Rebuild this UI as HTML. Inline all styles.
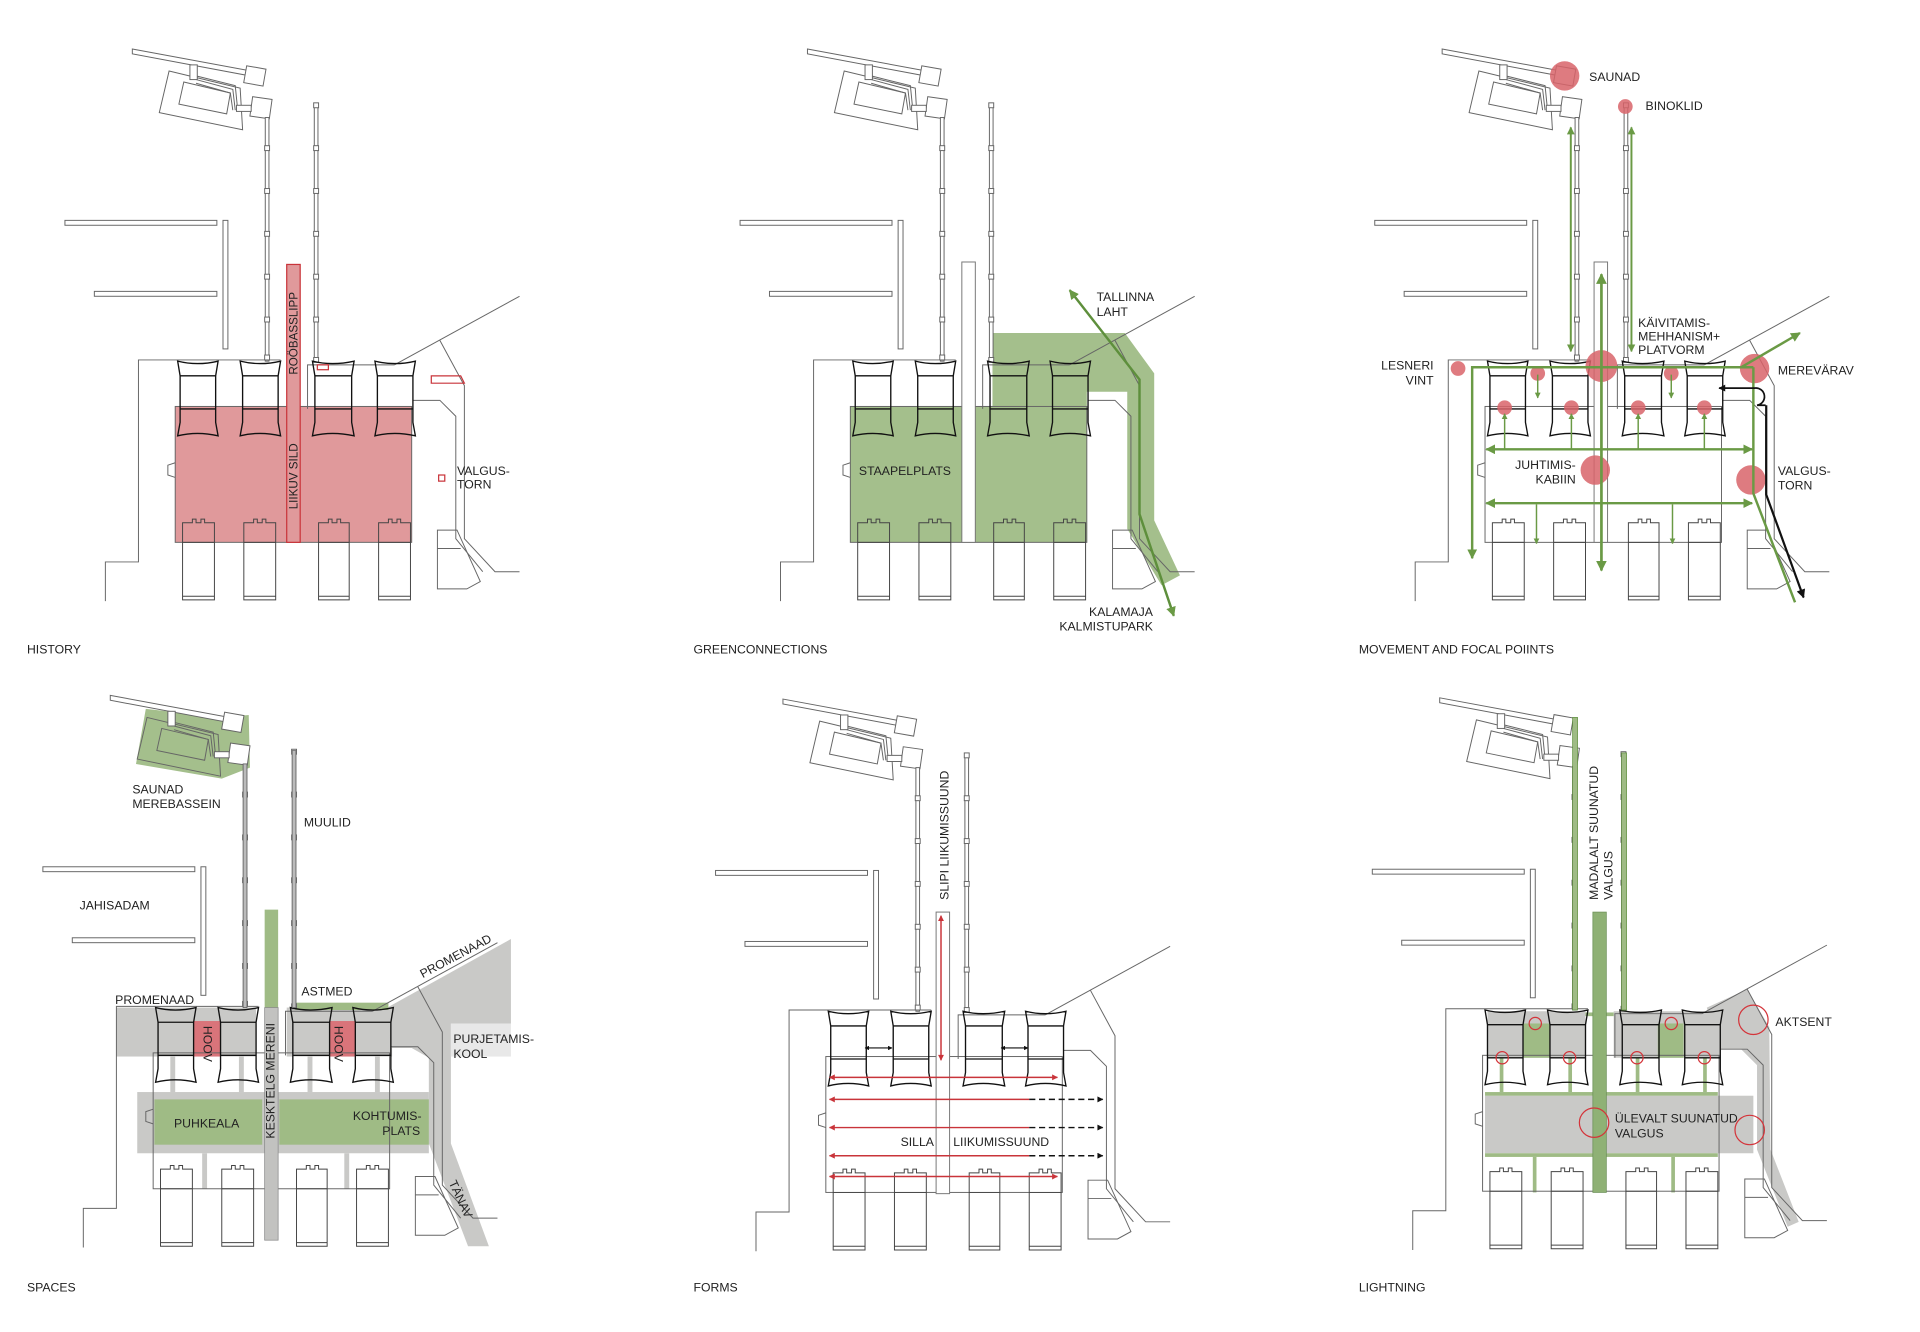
<!DOCTYPE html>
<html><head><meta charset="utf-8"><style>
html,body{margin:0;padding:0;background:#fff;}
svg{display:block;}
text{font-family:"Liberation Sans",Arial,sans-serif;font-size:10px;fill:#222;}
</style></head><body>
<svg width="1920" height="1332" viewBox="0 0 1567 1088" preserveAspectRatio="none" xmlns="http://www.w3.org/2000/svg">
<defs>
<marker id="ag" viewBox="0 0 10 10" refX="9" refY="5" markerWidth="4" markerHeight="4" orient="auto-start-reverse"><path d="M0,0 L10,5 L0,10 Z" fill="#6a9a45"/></marker>
<marker id="ar" viewBox="0 0 10 10" refX="9" refY="5" markerWidth="5" markerHeight="4" orient="auto-start-reverse"><path d="M0,0 L10,5 L0,10 Z" fill="#c9343a"/></marker>
<marker id="ak" viewBox="0 0 10 10" refX="9" refY="5" markerWidth="5" markerHeight="4" orient="auto-start-reverse"><path d="M0,0 L10,5 L0,10 Z" fill="#111"/></marker>
<g id="base">
 <g fill="none" stroke="#666" stroke-width="0.8">
  <path d="M108,40 L205,58 L204,62 L108,44 Z" fill="#fff"/>
  <polygon points="138,58 196,72 198,106 130,92"/>
  <polygon points="150,67 188,76 185,93 146,85"/>
  <path d="M160,62 L192,70 L194,90 M160,65 L190,73 L192,90 M160,68 L188,76 L190,90"/>
  <rect x="155" y="53" width="6" height="12" fill="#fff"/>
  <rect x="200" y="55" width="16" height="14" transform="rotate(10 208 62)" fill="#fff"/>
  <rect x="205" y="80" width="16" height="16" fill="#fff" transform="rotate(8 213 88)"/>
  <rect x="193" y="86" width="12" height="5" fill="#fff"/>
  <rect x="216.5" y="96" width="3" height="199" fill="#fff"/>
  <rect x="256.5" y="85" width="3" height="210" fill="#fff"/>
  <g fill="#fff">
   <rect x="216" y="119" width="4" height="4"/><rect x="216" y="154" width="4" height="4"/><rect x="216" y="189" width="4" height="4"/><rect x="216" y="224" width="4" height="4"/><rect x="216" y="259" width="4" height="4"/><rect x="216" y="290" width="4" height="4"/>
   <rect x="256" y="84" width="4" height="4"/><rect x="256" y="119" width="4" height="4"/><rect x="256" y="154" width="4" height="4"/><rect x="256" y="189" width="4" height="4"/><rect x="256" y="224" width="4" height="4"/><rect x="256" y="259" width="4" height="4"/><rect x="256" y="292" width="4" height="4"/>
  </g>
  <rect x="53" y="180" width="124" height="4"/>
  <rect x="77" y="238" width="100" height="4"/>
  <rect x="182" y="180" width="4" height="105"/>
  <polyline points="86,491 86,459 113,459 113,294 229,294"/>
  <polyline points="251,334 251,298 322,298"/>
  <polyline points="322,298 424,242"/>
  <polyline points="337,327 359,327 372,340 372,440 394,467"/>
  <polyline points="359,278 379,315 379,440 404,467 424,467"/>
  <rect x="143" y="332" width="193" height="111"/>
  <path d="M143,378 L137,380 L137,388 L143,390"/>
  <path d="M357,481 L357,433 L373,433 L392,475 L381,481 Z M357,448 L376,448"/>
 </g>
 <g fill="none" stroke="#111" stroke-width="1.1">
  <path d="M145,295 Q161,299 178,295 L176,307 L176,345 L178,356 Q161,352 145,356 L147,345 L147,307 Z M147,307 H176 M147,334 H176"/>
  <path d="M196,295 Q212,299 229,295 L227,307 L227,345 L229,356 Q212,352 196,356 L198,345 L198,307 Z M198,307 H227 M198,334 H227"/>
  <path d="M255,295 Q271,299 289,295 L287,307 L287,345 L289,356 Q271,352 255,356 L257,345 L257,307 Z M257,307 H287 M257,334 H287"/>
  <path d="M306,295 Q322,299 339,295 L337,307 L337,345 L339,356 Q322,352 306,356 L308,345 L308,307 Z M308,307 H337 M308,334 H337"/>
 </g>
 <g fill="none" stroke="#444" stroke-width="0.8">
  <path d="M149,490 V427 H157 V424 H160 V427 H164 V424 H167 V427 H175 V490 Z M149,443 H175 M149,487 H175"/>
  <path d="M199,490 V427 H207 V424 H210 V427 H214 V424 H217 V427 H225 V490 Z M199,443 H225 M199,487 H225"/>
  <path d="M260,490 V427 H268 V424 H271 V427 H275 V424 H278 V427 H285 V490 Z M260,443 H285 M260,487 H285"/>
  <path d="M309,490 V427 H317 V424 H320 V427 H324 V424 H327 V427 H335 V490 Z M309,443 H335 M309,487 H335"/>
 </g>
</g>
</defs>

<!-- PANEL 1 HISTORY -->
<rect x="143" y="332" width="193" height="111" fill="#e0999b"/>
<use href="#base"/>
<rect x="234" y="216" width="11" height="227" fill="#e0999b" stroke="#c9343a" stroke-width="1"/>
<rect x="259" y="298" width="9" height="4" fill="none" stroke="#c9343a"/>
<polygon points="352,307 376,307 379,313 352,313" fill="none" stroke="#c9343a"/>
<rect x="358" y="388" width="5" height="5" fill="none" stroke="#c9343a"/>
<text transform="translate(243,306) rotate(-90)" style="font-size:9.5px">ROÖBASSLIPP</text>
<text transform="translate(243,416) rotate(-90)" style="font-size:9.5px">LIIKUV SILD</text>
<text x="373" y="388">VALGUS-</text><text x="373" y="399">TORN</text>
<text x="22" y="534">HISTORY</text>

<!-- PANEL 2 GREEN -->
<g transform="translate(551,0)">
 <polygon points="259,272 367,272 391,305 391,425 412,470 397,478 369,432 369,320 336,320 336,443 143,443 143,332 259,332" fill="#a4bf8c"/>
 <use href="#base"/>
 <rect x="234" y="214" width="11" height="229" fill="#fff" stroke="#777" stroke-width="0.8"/>
 <polyline points="322,237 379,310 379,420 407,503" fill="none" stroke="#5e8f3c" stroke-width="2" marker-start="url(#ag)" marker-end="url(#ag)"/>
</g>
<text x="895" y="246">TALLINNA</text><text x="895" y="258">LAHT</text>
<text x="701" y="388">STAAPELPLATS</text>
<text x="941" y="503" text-anchor="end">KALAMAJA</text><text x="941" y="515" text-anchor="end">KALMISTUPARK</text>
<text x="566" y="534">GREENCONNECTIONS</text>

<!-- PANEL 3 MOVEMENT -->
<g transform="translate(1069,0)">
 <use href="#base"/>
 <rect x="232" y="214" width="11" height="229" fill="#fff" stroke="#777" stroke-width="0.8"/>
 <g fill="#d9646a" opacity="0.85">
  <circle cx="208" cy="62" r="12"/><circle cx="257.5" cy="87" r="6"/>
  <circle cx="238" cy="299" r="13"/><circle cx="121" cy="301" r="6"/>
  <circle cx="363" cy="301" r="12"/><circle cx="233" cy="384" r="12"/><circle cx="360" cy="392" r="12"/>
  <circle cx="186" cy="305" r="6"/><circle cx="295" cy="305" r="6"/>
  <circle cx="159" cy="333" r="6"/><circle cx="213.5" cy="333" r="6"/><circle cx="268" cy="333" r="6"/><circle cx="322" cy="333" r="6"/>
 </g>
 <g fill="none" stroke="#6a9a45" stroke-width="1.6">
  <line x1="213" y1="104" x2="213" y2="287" marker-start="url(#ag)" marker-end="url(#ag)"/>
  <line x1="262.5" y1="104" x2="262.5" y2="287" marker-start="url(#ag)" marker-end="url(#ag)"/>
  <line x1="238" y1="224" x2="238" y2="466" stroke-width="2.2" marker-start="url(#ag)" marker-end="url(#ag)"/>
  <polyline points="132.5,456 132.5,300 362,300" stroke-width="2" marker-start="url(#ag)"/>
  <line x1="144" y1="367" x2="361" y2="367" stroke-width="2" marker-start="url(#ag)" marker-end="url(#ag)"/>
  <line x1="144" y1="411" x2="361" y2="411" stroke-width="2" marker-start="url(#ag)" marker-end="url(#ag)"/>
  <line x1="185" y1="412" x2="185" y2="444" stroke-width="1.2" marker-end="url(#ag)"/>
  <line x1="296" y1="412" x2="296" y2="444" stroke-width="1.2" marker-end="url(#ag)"/>
  <line x1="186" y1="306" x2="186" y2="325" stroke-width="1.2" marker-end="url(#ag)"/>
  <line x1="295" y1="306" x2="295" y2="325" stroke-width="1.2" marker-end="url(#ag)"/>
  <line x1="159" y1="367" x2="159" y2="338" stroke-width="1.2" marker-end="url(#ag)"/>
  <line x1="213.5" y1="367" x2="213.5" y2="338" stroke-width="1.2" marker-end="url(#ag)"/>
  <line x1="268" y1="367" x2="268" y2="338" stroke-width="1.2" marker-end="url(#ag)"/>
  <line x1="322" y1="367" x2="322" y2="338" stroke-width="1.2" marker-end="url(#ag)"/>
  <polyline points="362,300 362,403 396,492" stroke-width="2"/>
  <line x1="352" y1="300" x2="400" y2="272" stroke-width="2" marker-end="url(#ag)"/>
 </g>
 <g fill="none" stroke="#111" stroke-width="1.4">
  <line x1="356" y1="317" x2="334" y2="317" marker-end="url(#ak)"/>
  <path d="M356,317 L363,317 A7,7 0 1 1 365,331 L372,331"/>
  <polyline points="372.5,331 372.5,404 403,488" marker-end="url(#ak)" stroke-width="1.8"/>
 </g>
</g>
<text x="1297" y="66">SAUNAD</text><text x="1343" y="90">BINOKLID</text>
<text x="1337" y="267">KÄIVITAMIS-</text><text x="1337" y="278">MEHHANISM+</text><text x="1337" y="289">PLATVORM</text>
<text x="1451" y="306">MEREVÄRAV</text>
<text x="1170" y="302" text-anchor="end">LESNERI</text><text x="1170" y="314" text-anchor="end">VINT</text>
<text x="1286" y="383" text-anchor="end">JUHTIMIS-</text><text x="1286" y="395" text-anchor="end">KABIIN</text>
<text x="1451" y="388">VALGUS-</text><text x="1451" y="400">TORN</text>
<text x="1109" y="534">MOVEMENT AND FOCAL POIINTS</text>

<!-- PANEL 4 SPACES -->
<g transform="translate(-18,528)">
 <polygon points="137,51 199,58 221,56 222,99 199,108 129,96" fill="#a4bf8c"/>
 <rect x="113" y="295" width="114" height="40" fill="#c9c9c7"/>
 <rect x="252" y="295" width="86" height="40" fill="#c9c9c7"/>
 <polygon points="334,295 435,239 435,308 386,308 386,406 417,490 400,490 368,406 368,336 354,328 337,328" fill="#c9c9c7"/>
 <rect x="386" y="308" width="49" height="27" fill="#e8e8e8"/>
 <rect x="130" y="364" width="238" height="50" fill="#c9c9c7"/>
 <rect x="144" y="370" width="88" height="37" fill="#9fbb85"/>
 <rect x="246" y="370" width="122" height="37" fill="#9fbb85"/>
 <g fill="#c9c9c7"><rect x="157" y="335" width="4" height="29"/><rect x="213" y="335" width="4" height="29"/><rect x="269" y="335" width="4" height="29"/><rect x="324" y="335" width="4" height="29"/><rect x="183" y="414" width="4" height="29"/><rect x="299" y="414" width="4" height="29"/></g>
 <rect x="259" y="291" width="76" height="6" fill="#9fbb85"/>
 <rect x="176" y="306" width="22" height="29" fill="#d9747a"/>
 <rect x="287" y="306" width="21" height="29" fill="#d9747a"/>
 <use href="#base"/>
 <rect x="216.5" y="96" width="3" height="199" fill="#bbb" stroke="#666" stroke-width="0.6"/>
 <rect x="256.5" y="85" width="3" height="210" fill="#bbb" stroke="#666" stroke-width="0.6"/>
 <rect x="234" y="215" width="11" height="80" fill="#9fbb85"/>
 <rect x="234" y="295" width="11" height="190" fill="#c2c2c0" stroke="#888" stroke-width="0.6"/>
</g>
<text x="108" y="648">SAUNAD</text><text x="108" y="660">MEREBASSEIN</text>
<text x="248" y="675">MUULID</text>
<text x="65" y="743">JAHISADAM</text>
<text x="94" y="820">PROMENAAD</text>
<text x="246" y="813">ASTMED</text>
<text transform="translate(345,799) rotate(-28)">PROMENAAD</text>
<text x="370" y="852">PURJETAMIS-</text><text x="370" y="864">KOOL</text>
<text transform="translate(166,838) rotate(90)">HOOV</text>
<text transform="translate(273,838) rotate(90)">HOOV</text>
<text transform="translate(224,930) rotate(-90)">KESKTELG MERENI</text>
<text x="142" y="921">PUHKEALA</text>
<text x="288" y="915">KOHTUMIS-</text><text x="312" y="927">PLATS</text>
<text transform="translate(366,966) rotate(65)">TÄNAV</text>
<text x="22" y="1055">SPACES</text>

<!-- PANEL 5 FORMS -->
<g transform="translate(531,531)">
 <use href="#base"/>
 <rect x="233" y="214" width="11" height="230" fill="#fff" stroke="#777" stroke-width="0.8"/>
</g>
<g fill="none" stroke="#c9343a" stroke-width="1.2">
 <line x1="768" y1="748" x2="768" y2="866" marker-start="url(#ar)" marker-end="url(#ar)"/>
 <line x1="677" y1="880" x2="863" y2="880" marker-start="url(#ar)" marker-end="url(#ar)"/>
 <line x1="677" y1="898" x2="840" y2="898" marker-start="url(#ar)"/>
 <line x1="677" y1="921" x2="840" y2="921" marker-start="url(#ar)"/>
 <line x1="677" y1="944" x2="840" y2="944" marker-start="url(#ar)"/>
 <line x1="677" y1="961" x2="863" y2="961" marker-start="url(#ar)" marker-end="url(#ar)"/>
</g>
<g fill="none" stroke="#111" stroke-width="1.2">
 <line x1="840" y1="898" x2="900" y2="898" stroke-dasharray="5,3" marker-end="url(#ak)"/>
 <line x1="840" y1="921" x2="900" y2="921" stroke-dasharray="5,3" marker-end="url(#ak)"/>
 <line x1="840" y1="944" x2="900" y2="944" stroke-dasharray="5,3" marker-end="url(#ak)"/>
 <line x1="706" y1="856" x2="728" y2="856" stroke-width="0.9" marker-start="url(#ak)" marker-end="url(#ak)"/>
 <line x1="817" y1="856" x2="839" y2="856" stroke-width="0.9" marker-start="url(#ak)" marker-end="url(#ak)"/>
</g>
<text transform="translate(774,735) rotate(-90)">SLIPI LIIKUMISSUUND</text>
<text x="735" y="936">SILLA</text><text x="778" y="936">LIIKUMISSUUND</text>
<text x="566" y="1055">FORMS</text>

<!-- PANEL 6 LIGHTNING -->
<g transform="translate(1067,530)">
 <rect x="147" y="296" width="80" height="38" fill="#c9c9c7"/>
 <rect x="250" y="296" width="87" height="38" fill="#c9c9c7"/>
 <rect x="176" y="306" width="22" height="28" fill="#9fbb85"/>
 <rect x="286" y="306" width="21" height="28" fill="#9fbb85"/>
 <polygon points="326,293 359,278 377,309 378,409 401,468 392,472 367,409 367,340 354,327 335,327" fill="#c9c9c7"/>
 <rect x="145" y="365" width="219" height="47" fill="#c9c9c7"/>
 <g fill="#9fbb85">
  <rect x="145" y="362" width="190" height="3"/><rect x="145" y="412" width="190" height="3"/>
  <rect x="157" y="334" width="3" height="28"/><rect x="213" y="334" width="3" height="28"/><rect x="268" y="334" width="3" height="28"/><rect x="323" y="334" width="3" height="28"/>
  <rect x="184" y="415" width="3" height="29"/><rect x="297" y="415" width="3" height="29"/>
  <rect x="227" y="297" width="23" height="3"/>
 </g>
 <use href="#base"/>
 <rect x="216.5" y="56" width="4" height="239" fill="#9fbb85" stroke="#5e8f3c" stroke-width="0.6"/>
 <rect x="256.5" y="85" width="4" height="210" fill="#9fbb85" stroke="#5e8f3c" stroke-width="0.6"/>
 <rect x="233" y="215" width="11" height="229" fill="#8fb175" stroke="#6a8f55" stroke-width="0.6"/>
 <g fill="none" stroke="#d4343a" stroke-width="1">
  <circle cx="186" cy="306" r="5"/><circle cx="297" cy="306" r="5"/>
  <circle cx="159" cy="334" r="5"/><circle cx="214" cy="334" r="5"/><circle cx="269" cy="334" r="5"/><circle cx="324" cy="334" r="5"/>
  <circle cx="234" cy="387" r="12"/><circle cx="361" cy="393" r="12"/><circle cx="364" cy="303" r="12"/>
 </g>
</g>
<text x="1449" y="838">AKTSENT</text>
<text x="1318" y="917">ÜLEVALT SUUNATUD</text><text x="1318" y="929">VALGUS</text>
<text transform="translate(1304,735) rotate(-90)">MADALALT SUUNATUD</text>
<text transform="translate(1316,735) rotate(-90)">VALGUS</text>
<text x="1109" y="1055">LIGHTNING</text>
</svg>
</body></html>
